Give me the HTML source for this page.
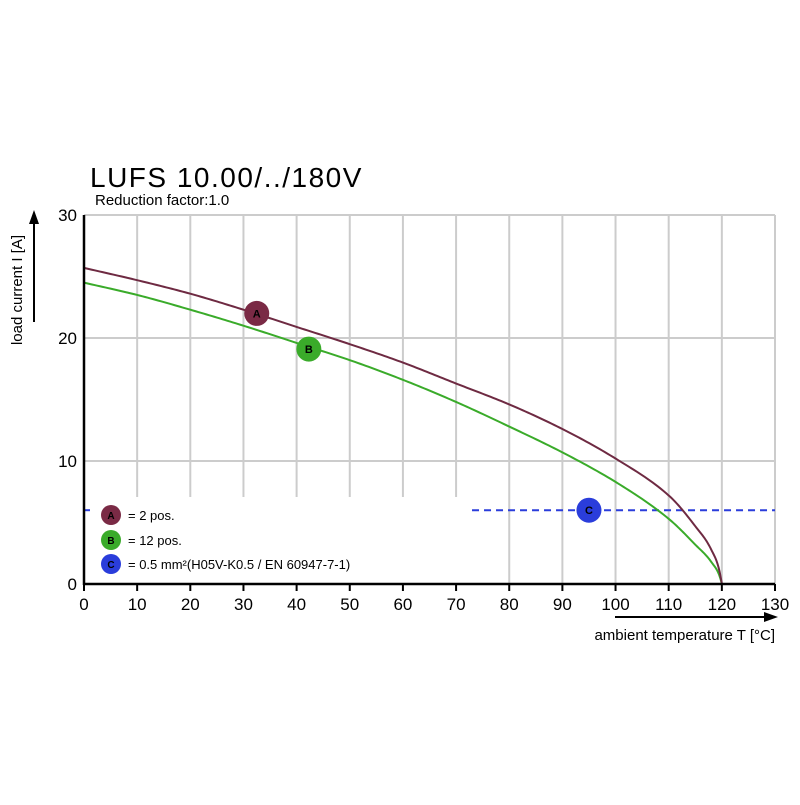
<!DOCTYPE html>
<html><head><meta charset="utf-8"><style>
body{margin:0;background:#fff;width:800px;height:800px;overflow:hidden}
svg text{font-family:"Liberation Sans",sans-serif}
</style></head><body>
<svg id="c" width="800" height="800">
<text x="90" y="187" font-size="28" letter-spacing="1.5">LUFS 10.00/../180V</text>
<text x="95" y="205" font-size="15">Reduction factor:1.0</text>
<g id="grid"></g>
<rect x="86" y="497" width="374" height="86" fill="#fff"/>
<g id="marks"></g>
<g id="axes"></g>
<g>
<circle cx="111" cy="515" r="10" fill="#7a2a45"/><text x="111" y="519" font-size="10" font-weight="bold" text-anchor="middle">A</text>
<text x="128" y="520" font-size="13">= 2 pos.</text>
<circle cx="111" cy="540" r="10" fill="#3aab2a"/><text x="111" y="544" font-size="10" font-weight="bold" text-anchor="middle">B</text>
<text x="128" y="545" font-size="13">= 12 pos.</text>
<circle cx="111" cy="564" r="10" fill="#2a3ddb"/><text x="111" y="568" font-size="10" font-weight="bold" text-anchor="middle">C</text>
<text x="128" y="569" font-size="13">= 0.5 mm²(H05V-K0.5 / EN 60947-7-1)</text>
</g>
<text transform="translate(22,290) rotate(-90)" font-size="15" text-anchor="middle">load current I [A]</text>
<line x1="34" y1="322" x2="34" y2="222" stroke="#000" stroke-width="2"/>
<polygon points="34,210 29,224 39,224" fill="#000"/>
<line x1="615" y1="617" x2="765" y2="617" stroke="#000" stroke-width="2"/>
<polygon points="778,617 764,612 764,622" fill="#000"/>
<text x="775" y="640" font-size="15" text-anchor="end">ambient temperature T [°C]</text>
</svg>
<script>
const xTicks=[0,10,20,30,40,50,60,70,80,90,100,110,120,130];
const yTicks=[0,10,20,30];
const temps=[0,10,20,30,40,50,60,70,80,90,100,110,115,118,120];
const seriesA=[25.7,24.7,23.6,22.3,20.9,19.5,18.0,16.3,14.6,12.6,10.2,7.2,4.7,2.8,0];
const seriesB=[24.5,23.5,22.3,21.0,19.6,18.2,16.6,14.8,12.8,10.7,8.3,5.3,3.2,1.8,0];
const limitC=6;
const markerA=[32.5,22];
const markerB=[42.3,19.1];
const markerC=[95,6];
const X=v=>84+v*(691/130), Y=v=>584-v*(369/30);
const NS="http://www.w3.org/2000/svg";
function mk(p,t,a){const e=document.createElementNS(NS,t);for(const k in a)e.setAttribute(k,a[k]);p.appendChild(e);return e;}
const g=document.getElementById('grid'),m=document.getElementById('marks'),ax=document.getElementById('axes');
xTicks.forEach(t=>{if(t>0){const l=mk(g,'line',{x1:X(t),x2:X(t),y1:Y(30),y2:Y(0),stroke:'#ccc','stroke-width':2});

}
const tk=mk(ax,'line',{x1:X(t),x2:X(t),y1:584,y2:591,stroke:'#000','stroke-width':2});


const tx=mk(ax,'text',{x:X(t),y:610,'font-size':17,'text-anchor':'middle'});tx.textContent=t;

});
yTicks.forEach(t=>{if(t>0){const l=mk(g,'line',{x1:84,x2:775,y1:Y(t),y2:Y(t),stroke:'#ccc','stroke-width':2});

}
const tx=mk(ax,'text',{x:77,y:Y(t)+6,'font-size':17,'text-anchor':'end'});tx.textContent=t;

});
const xa=mk(ax,'line',{x1:84,x2:775,y1:584,y2:584,stroke:'#000','stroke-width':2.5});


const ya=mk(ax,'line',{x1:84,x2:84,y1:215,y2:585,stroke:'#000','stroke-width':2.5});


function path(xs,ys){const n=xs.length,h=[],d=[],mm=[];
for(let i=0;i<n-1;i++){h[i]=xs[i+1]-xs[i];d[i]=(ys[i+1]-ys[i])/h[i];}
mm[0]=d[0];mm[n-1]=d[n-2]*2;
for(let i=1;i<n-1;i++){if(d[i-1]*d[i]<=0)mm[i]=0;else{const w1=2*h[i]+h[i-1],w2=h[i]+2*h[i-1];mm[i]=(w1+w2)/(w1/d[i-1]+w2/d[i]);}}
let s='M'+X(xs[0])+','+Y(ys[0]);
for(let i=0;i<n-1;i++){for(let k=1;k<=20;k++){const t=k/20,t2=t*t,t3=t2*t;
const y=(2*t3-3*t2+1)*ys[i]+(t3-2*t2+t)*h[i]*mm[i]+(-2*t3+3*t2)*ys[i+1]+(t3-t2)*h[i]*mm[i+1];
s+=' L'+X(xs[i]+t*h[i]).toFixed(2)+','+Y(y).toFixed(2);}}
return s;}
const dc1=mk(m,'line',{x1:84,x2:90,y1:Y(limitC),y2:Y(limitC),stroke:'#2a3ddb','stroke-width':2});


const dc=mk(m,'line',{x1:X(73),x2:775,y1:Y(limitC),y2:Y(limitC),stroke:'#2a3ddb','stroke-width':2,'stroke-dasharray':'7,5'});


const pb=mk(m,'path',{d:path(temps,seriesB),fill:'none',stroke:'#3aab2a','stroke-width':2});


const pa=mk(m,'path',{d:path(temps,seriesA),fill:'none',stroke:'#6e2a42','stroke-width':2});


[[markerA,'#7a2a45','A'],[markerB,'#3aab2a','B'],[markerC,'#2a3ddb','C']].forEach(([p,c,l])=>{
const ci=mk(m,'circle',{cx:X(p[0]),cy:Y(p[1]),r:12.5,fill:c});


const t=mk(m,'text',{x:X(p[0]),y:Y(p[1])+4,'font-size':11,'font-weight':'bold','text-anchor':'middle'});t.textContent=l;

});
</script>
</body></html>
